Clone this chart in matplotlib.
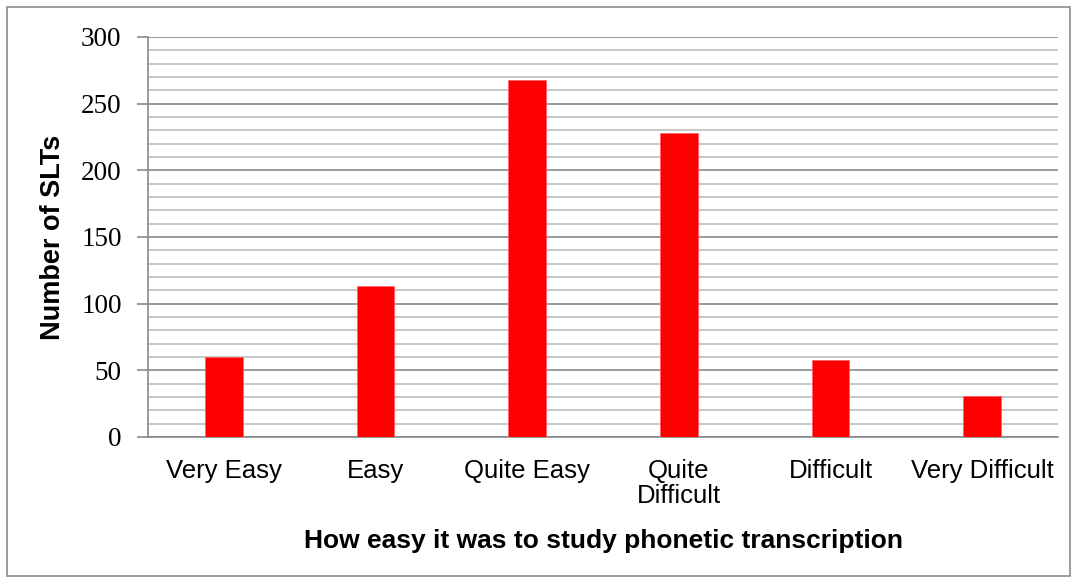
import matplotlib
matplotlib.use("Agg")
import matplotlib.pyplot as plt
from matplotlib.patches import Rectangle
from matplotlib.ticker import MultipleLocator

categories = ["Very Easy", "Easy", "Quite Easy", "Quite\nDifficult", "Difficult", "Very Difficult"]
values = [60, 113, 268, 228, 58, 31]

W, H = 1077, 583
fig = plt.figure(figsize=(W/100, H/100), dpi=100)
fig.patch.set_facecolor("white")
fig.add_artist(Rectangle((7/W, 7/H), (1070-7)/W, (576-7)/H, transform=fig.transFigure,
                         fill=False, edgecolor="#8c8c8c", linewidth=1.2))

ax = fig.add_axes([148/W, 1-437/H, (1058-148)/W, 400/H])
x = list(range(len(categories)))
ax.bar(x, values, width=0.25, color="#ff0000", zorder=3,
       edgecolor="#ff6060", linewidth=0.5)
ax.set_xlim(-0.5, len(categories)-0.5)
ax.set_ylim(0, 300)
ax.yaxis.set_major_locator(MultipleLocator(50))
ax.yaxis.set_minor_locator(MultipleLocator(10))
ax.grid(which="major", axis="y", color="#8a8a8a", linewidth=1.2, zorder=0)
ax.grid(which="minor", axis="y", color="#bdbdbd", linewidth=1.2, zorder=0)
for s in ["top", "right"]:
    ax.spines[s].set_visible(False)
ax.spines["left"].set_color("#8a8a8a")
ax.spines["left"].set_linewidth(1.2)
ax.spines["bottom"].set_color("#8a8a8a")
ax.spines["bottom"].set_linewidth(1.2)
ax.tick_params(axis="y", which="major", length=8, color="#8a8a8a", width=1.2, pad=11)
ax.tick_params(axis="y", which="minor", length=0)
ax.tick_params(axis="x", length=0, pad=16)
ax.set_xticks(x)
ax.set_xticklabels(categories, fontsize=18.5, family="Liberation Sans", linespacing=1.05)
for lab in ax.get_yticklabels():
    lab.set_family("Liberation Serif")
    lab.set_fontsize(19.5)
ax.set_ylabel("Number of SLTs", fontsize=19.5, fontweight="bold", family="Liberation Sans", labelpad=11)
ax.set_xlabel("How easy it was to study phonetic transcription", fontsize=19,
              fontweight="bold", family="Liberation Sans", labelpad=15)

fig.savefig("out.png", dpi=100, facecolor="white")
